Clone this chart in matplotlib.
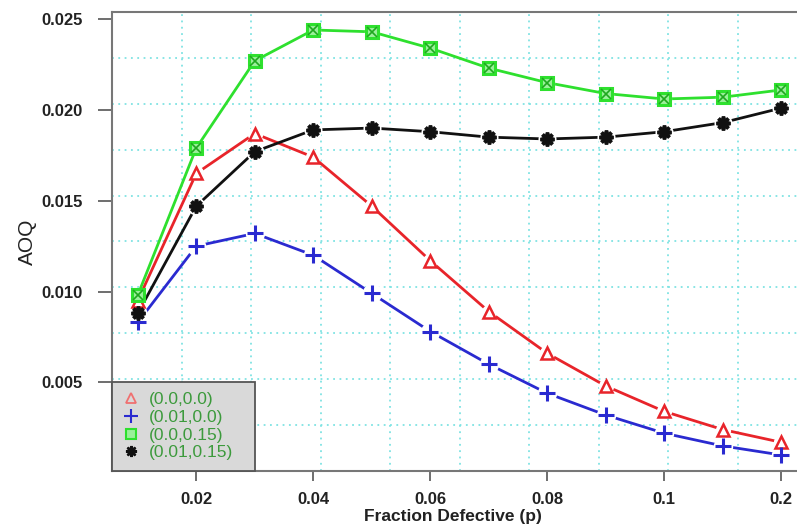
import numpy as np
import matplotlib.pyplot as plt
from matplotlib.lines import Line2D

# fraction defective p and AOQ values for each (a, b) setting
p = [0.01, 0.02, 0.03, 0.04, 0.05, 0.06, 0.07, 0.08, 0.09, 0.10, 0.11, 0.12]
aoq_00_00 = [0.0095, 0.0165, 0.0187, 0.0174, 0.0147, 0.0117, 0.0089, 0.0066, 0.0048, 0.0034, 0.0024, 0.0017]
aoq_01_00 = [0.0083, 0.0125, 0.0132, 0.0120, 0.0099, 0.0078, 0.0060, 0.0044, 0.0032, 0.0022, 0.0015, 0.0010]
aoq_00_15 = [0.0098, 0.0179, 0.0227, 0.0244, 0.0243, 0.0234, 0.0223, 0.0215, 0.0209, 0.0206, 0.0207, 0.0211]
aoq_01_15 = [0.0088, 0.0147, 0.0177, 0.0189, 0.0190, 0.0188, 0.0185, 0.0184, 0.0185, 0.0188, 0.0193, 0.0201]

x_ticks = [0.02, 0.04, 0.06, 0.08, 0.10, 0.12]
x_tick_labels = ['0.02', '0.04', '0.06', '0.08', '0.1', '0.2']
y_ticks = [0.005, 0.010, 0.015, 0.020, 0.025]
legend_labels = ['(0.0,0.0)', '(0.01,0.0)', '(0.0,0.15)', '(0.01,0.15)']

RED = '#e8242a'
BLUE = '#2a2ad0'
GREEN = '#2ee02e'
BLACK = '#111111'
GRID = '#7fe3e3'

plt.rcParams['font.family'] = ['Liberation Sans', 'DejaVu Sans']

fig = plt.figure(figsize=(7.97, 5.29), dpi=100)
ax = fig.add_axes([112 / 797, 1 - 471 / 529, 695 / 797, 459 / 529])

xlim = (0.0056, 0.1244)
ylim = (0.00012, 0.02539)
ax.set_xlim(*xlim)
ax.set_ylim(*ylim)

# R-style grid: ten equal divisions of the plotting region
for gx in np.linspace(xlim[0], xlim[1], 11)[1:-1]:
    ax.axvline(gx, color=GRID, lw=1.3, ls=(0, (1, 2.5)), zorder=0)
for gy in np.linspace(ylim[0], ylim[1], 11)[1:-1]:
    ax.axhline(gy, color=GRID, lw=1.3, ls=(0, (1, 2.5)), zorder=0)


def series(y, color, marker, ms, mew, fill='none'):
    ax.plot(p, y, color=color, lw=2.0, zorder=2)
    # small white gaps around the points, like type="b"
    ax.plot(p, y, ls='none', marker='o', ms=ms + 3, mfc='white', mec='none', zorder=3)
    ax.plot(p, y, ls='none', marker=marker, ms=ms, mfc=fill, mec=color, mew=mew, zorder=4)


series(aoq_00_00, RED, '^', 8, 1.8)
series(aoq_01_00, BLUE, '+', 11, 2.2)
series(aoq_00_15, GREEN, 's', 8, 2.2, fill='#9af09a')
ax.plot(p, aoq_00_15, ls='none', marker='x', ms=7, mec='#1fa81f', mew=1.2, zorder=5)
series(aoq_01_15, BLACK, (8, 2, 0), 10, 2.6)

ax.set_xticks(x_ticks)
ax.set_xticklabels(x_tick_labels)
ax.set_yticks(y_ticks)
ax.set_yticklabels(['%.3f' % v for v in y_ticks])
ax.tick_params(axis='both', direction='out', width=1.2, color='#555555', labelsize=12)
ax.tick_params(axis='y', length=10, pad=11)
ax.tick_params(axis='x', length=7, pad=8)
for lab in ax.get_xticklabels() + ax.get_yticklabels():
    lab.set_fontweight('bold')
    lab.set_color('#222222')
for s in ax.spines.values():
    s.set_color('#777777')
    s.set_linewidth(1.5)

ax.set_ylabel('AOQ', fontsize=15, color='#222222')
ax.yaxis.set_label_coords(-0.108, 0.5)
ax.set_xlabel('Fraction Defective (p)', fontsize=12.5, fontweight='bold', color='#222222')
ax.xaxis.set_label_coords(0.49, -0.082)

handles = [
    Line2D([], [], ls='none', marker='^', ms=7, mfc='none', mec='#f07070', mew=1.3),
    Line2D([], [], ls='none', marker='+', ms=10, mec=BLUE, mew=1.5),
    Line2D([], [], ls='none', marker='s', ms=7, mfc='#9af09a', mec=GREEN, mew=1.5),
    Line2D([], [], ls='none', marker=(8, 2, 0), ms=8, mec=BLACK, mew=1.8),
]
leg = ax.legend(handles, legend_labels, loc='lower left', mode='expand',
                bbox_to_anchor=(0, 0, 143 / 695, 0.2), borderaxespad=0,
                fancybox=False, framealpha=1, fontsize=12.5, handlelength=1.0,
                handletextpad=0.5, labelspacing=0.14, borderpad=0.62,
                labelcolor='#3c9a3c')
leg.get_frame().set_facecolor('#d9d9d9')
leg.get_frame().set_edgecolor('#555555')
leg.get_frame().set_linewidth(1.3)
leg.set_zorder(10)

fig.savefig('out.png', dpi=100)
